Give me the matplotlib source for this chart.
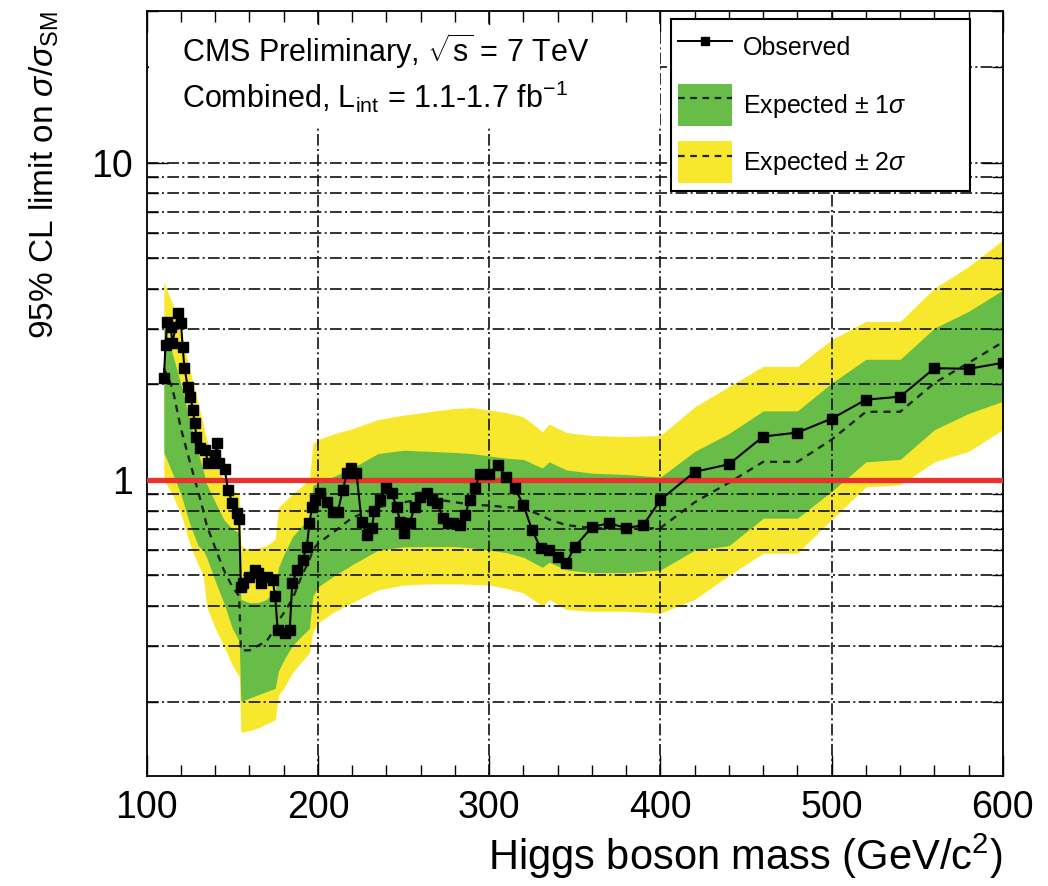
#!/usr/bin/python3
# -*- coding: utf-8 -*-

# CMS combined Higgs limit plot (sqrt(s) = 7 TeV, 1.1-1.7 fb-1)

import matplotlib
matplotlib.use('Agg')
import matplotlib.pyplot as plt
import matplotlib.ticker as ticker
from matplotlib import font_manager
from matplotlib.lines import Line2D
from matplotlib.patches import Patch, Rectangle

# observed limit
obs_mass = [110, 111, 112, 114, 115, 118.5, 120, 121, 122, 124, 125.5, 127, 128,
            129, 131, 134, 136, 140, 141, 142.5, 145.5, 147.5, 150, 152.5, 154,
            155, 156, 160, 163, 165, 167, 170, 173.5, 175, 176.5, 180.5, 183.5,
            185, 188, 191, 193.5, 195, 196.5, 198, 201, 205, 208.5, 211.5, 214.5,
            217, 219.5, 222.5, 225.5, 228.5, 231.5, 233, 236, 240, 243, 246, 248,
            250.5, 253.5, 256.5, 259.5, 263.5, 266.5, 269.5, 273, 276, 279, 283,
            286, 288.5, 291.5, 294.5, 300, 305, 310, 315, 320, 325, 330, 335, 340,
            345, 350, 360, 370, 380, 390, 400, 420, 440, 460, 480, 500, 520, 540,
            560, 580, 600]
obs_limit = [2.10, 2.67, 3.15, 3.04, 2.70, 3.36, 3.13, 2.63, 2.26, 1.96, 1.83, 1.66, 1.51,
             1.37, 1.26, 1.24, 1.13, 1.20, 1.31, 1.13, 1.08, 0.93, 0.846, 0.787, 0.75,
             0.46, 0.474, 0.495, 0.52, 0.51, 0.474, 0.495, 0.484, 0.43, 0.336, 0.33, 0.336,
             0.474, 0.52, 0.56, 0.615, 0.73, 0.82, 0.865, 0.91, 0.85, 0.79, 0.79, 0.93,
             1.05, 1.09, 1.05, 0.737, 0.67, 0.705, 0.80, 0.865, 0.94, 0.91, 0.82, 0.737,
             0.68, 0.73, 0.82, 0.88, 0.91, 0.865, 0.846, 0.76, 0.73, 0.73, 0.72,
             0.775, 0.865, 0.94, 1.04, 1.04, 1.11, 1.02, 0.94, 0.834, 0.695, 0.61, 0.60, 0.57,
             0.547, 0.615, 0.71, 0.73, 0.705, 0.72, 0.865, 1.06, 1.12, 1.37, 1.41, 1.56, 1.79, 1.83,
             2.25, 2.24, 2.34]

# expected limit and bands
exp_mass = [110, 115, 120, 125, 130, 133, 135, 140, 145, 150, 154,
            155, 160, 165, 170, 175, 177, 180, 185, 190, 195, 197,
            200, 210, 220, 235, 250, 265, 280, 290, 300, 310, 320,
            331, 335, 345, 360, 380, 400,
            420, 440, 460, 480, 500, 520, 540, 560, 580, 600]
exp_median = [2.25, 1.95, 1.45, 1.15, 0.92, 0.80, 0.72, 0.61, 0.52, 0.46, 0.43,
              0.29, 0.29, 0.30, 0.31, 0.34, 0.36, 0.38, 0.42, 0.49, 0.56, 0.60,
              0.63, 0.69, 0.76, 0.82, 0.85, 0.875, 0.85, 0.835, 0.83, 0.82, 0.815,
              0.77, 0.75, 0.72, 0.705, 0.70, 0.705,
              0.85, 0.98, 1.14, 1.14, 1.34, 1.64, 1.64, 2.02, 2.34, 2.72]
exp_p1 = [3.1, 2.5, 2.0, 1.55, 1.22, 1.07, 0.97, 0.85, 0.75, 0.70, 0.68,
          0.42, 0.41, 0.41, 0.42, 0.45, 0.53, 0.58, 0.66, 0.71, 0.75, 0.96,
          0.98, 1.03, 1.09, 1.21, 1.24, 1.23, 1.22, 1.21, 1.19, 1.17, 1.16,
          1.09, 1.14, 1.075, 1.05, 1.04, 1.02,
          1.23, 1.40, 1.65, 1.65, 2.02, 2.40, 2.40, 3.01, 3.40, 3.97]
exp_m1 = [1.22, 1.05, 0.90, 0.73, 0.62, 0.60, 0.57, 0.48, 0.41, 0.34, 0.31,
          0.20, 0.205, 0.21, 0.215, 0.22, 0.25, 0.27, 0.30, 0.32, 0.34, 0.43,
          0.46, 0.50, 0.54, 0.60, 0.615, 0.616, 0.616, 0.61, 0.60, 0.59, 0.57,
          0.53, 0.55, 0.52, 0.51, 0.51, 0.52,
          0.60, 0.62, 0.757, 0.757, 0.92, 1.14, 1.16, 1.44, 1.62, 1.77]
exp_p2 = [4.2, 3.6, 2.9, 2.25, 1.75, 1.5, 1.34, 1.15, 1.0, 0.93, 0.9,
          0.62, 0.60, 0.61, 0.62, 0.65, 0.82, 0.85, 0.90, 0.95, 1.0, 1.3,
          1.34, 1.40, 1.45, 1.55, 1.60, 1.64, 1.68, 1.69, 1.66, 1.63, 1.58,
          1.42, 1.50, 1.41, 1.38, 1.37, 1.38,
          1.70, 1.97, 2.28, 2.28, 2.77, 3.16, 3.16, 4.02, 4.71, 5.71]
exp_m2 = [1.0, 0.9, 0.78, 0.63, 0.54, 0.5, 0.40, 0.34, 0.30, 0.26, 0.24,
          0.16, 0.162, 0.165, 0.17, 0.175, 0.21, 0.22, 0.246, 0.265, 0.285, 0.33,
          0.354, 0.385, 0.41, 0.45, 0.466, 0.47, 0.47, 0.468, 0.466, 0.455, 0.44,
          0.40, 0.42, 0.39, 0.385, 0.385, 0.38,
          0.42, 0.50, 0.587, 0.587, 0.75, 0.95, 0.965, 1.14, 1.23, 1.44]

GREEN = '#68bc48'
YELLOW = '#f8e82d'
RED = '#e8322e'


def pick_font():
    for name in ['Liberation Sans Narrow', 'Liberation Sans', 'DejaVu Sans']:
        try:
            font_manager.findfont(name, fallback_to_default=False)
            return name
        except ValueError:
            pass
    return 'DejaVu Sans'


def main():

    fam = pick_font()
    plt.rcParams['font.family'] = [fam, 'DejaVu Sans']
    plt.rcParams['mathtext.fontset'] = 'custom'
    plt.rcParams['mathtext.rm'] = fam
    plt.rcParams['mathtext.it'] = fam + ':italic'
    plt.rcParams['mathtext.sf'] = fam

    fig = plt.figure(figsize=(10.48, 8.86), dpi=100)
    ax = fig.add_axes([0.140, 0.1242, 0.817, 0.8634])

    # bands
    ax.fill_between(exp_mass, exp_m2, exp_p2, color=YELLOW, lw=0, zorder=1)
    ax.fill_between(exp_mass, exp_m1, exp_p1, color=GREEN, lw=0, zorder=1.1)
    ax.plot(exp_mass, exp_median, color='#222222', lw=1.7,
            dashes=(3, 2.5), zorder=1.2)

    # SM line
    ax.axhline(1.0, color=RED, lw=3.8, zorder=3)

    # observed
    ax.plot(obs_mass, obs_limit, color='black', lw=1.5, marker='s',
            markersize=6.5, zorder=4)

    ax.set_yscale('log')
    ax.set_xlim(100, 600)
    ax.set_ylim(0.1165, 30.1)

    ax.xaxis.set_major_locator(ticker.MultipleLocator(100))
    ax.xaxis.set_minor_locator(ticker.MultipleLocator(20))
    ax.yaxis.set_major_locator(ticker.LogLocator(base=10))
    ax.yaxis.set_minor_locator(ticker.LogLocator(base=10, subs=range(2, 10)))
    ax.yaxis.set_major_formatter(ticker.FuncFormatter(lambda v, p: '%g' % v))
    ax.yaxis.set_minor_formatter(ticker.NullFormatter())

    ax.set_axisbelow(False)
    grid_kw = dict(color='#111111', lw=1.2, dashes=(7, 2, 1.2, 2))
    ax.grid(True, which='major', axis='x', **grid_kw)
    ax.grid(True, which='both', axis='y', **grid_kw)

    ax.tick_params(which='both', direction='in', top=True, right=True,
                   width=1.0, labelsize=27, pad=10)
    ax.tick_params(which='major', length=15)
    ax.tick_params(which='minor', length=8)
    for sp in ax.spines.values():
        sp.set_linewidth(1.3)

    # white pave behind the header text
    ax.add_patch(Rectangle((0.003, 0.847), 0.596, 0.135, transform=ax.transAxes,
                           facecolor='white', edgecolor='none', zorder=2.6))

    ax.text(0.041, 0.933, r'CMS Preliminary, $\sqrt{\mathrm{s}}$ = 7 TeV',
            transform=ax.transAxes, fontsize=22, zorder=6)
    ax.text(0.041, 0.873, r'Combined, L$_{\mathrm{int}}$ = 1.1-1.7 fb$^{\mathrm{-1}}$',
            transform=ax.transAxes, fontsize=22, zorder=6)

    ax.set_xlabel(r'Higgs boson mass (GeV/c$^{\mathrm{2}}$)', fontsize=30,
                  loc='right', labelpad=4)
    ax.set_ylabel(r'95% CL limit on $\sigma/\sigma_{\mathrm{SM}}$', fontsize=24,
                  loc='top', labelpad=22)

    # legend
    dash = Line2D([], [], color='#222222', lw=1.6, dashes=(3, 2.5))
    h_obs = Line2D([], [], color='black', lw=1.4, marker='s', markersize=5.5)
    h_1s = (Patch(facecolor=GREEN, edgecolor='none'), dash)
    h_2s = (Patch(facecolor=YELLOW, edgecolor='none'), dash)
    leg = ax.legend([h_obs, h_1s, h_2s],
                    ['Observed', r'Expected $\pm$ 1$\sigma$', r'Expected $\pm$ 2$\sigma$'],
                    loc='upper left', bbox_to_anchor=(0.612, 0.757, 0.349, 0.2325),
                    mode='expand', borderaxespad=0, fontsize=18, numpoints=1,
                    handlelength=2.16, handleheight=2.2, handletextpad=0.44,
                    labelspacing=0.62, borderpad=0.3, fancybox=False,
                    framealpha=1, edgecolor='black')
    leg.get_frame().set_linewidth(1.5)
    leg.set_zorder(7)

    fig.savefig('out.png', dpi=100)


if __name__ == '__main__':

    main()
